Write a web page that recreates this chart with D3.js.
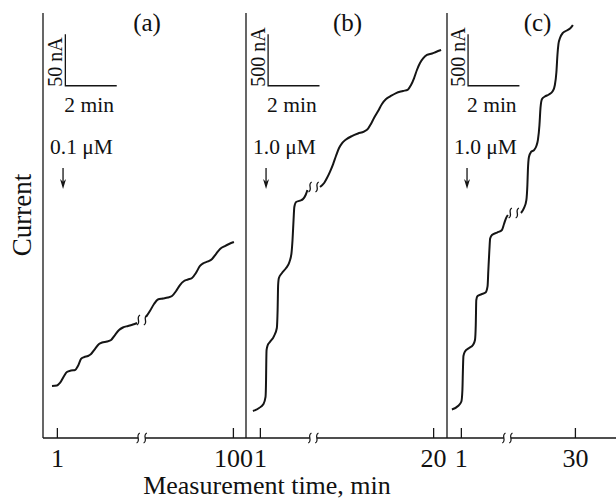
<!DOCTYPE html>
<html>
<head>
<meta charset="utf-8">
<title>Current traces</title>
<script src="https://d3js.org/d3.v7.min.js"></script>
<style>
body{margin:0;background:#fff}
text{font-family:"Liberation Serif","Times New Roman",serif;fill:#111}
</style>
</head>
<body>
<svg width="616" height="500"></svg>
<script>
// traces: [time, min ; current, nA], split at the break
var traceA1 = [[0.35,50.5],[0.54,51.0],[0.66,53.5],[0.82,60.3],[0.93,64.2],[1.09,65.6],[1.25,66.1],[1.36,70.0],[1.48,76.8],[1.60,78.7],[1.75,79.7],[1.87,81.6],[2.02,86.5],[2.18,91.4],[2.30,92.8],[2.49,93.8],[2.65,95.3],[2.80,100.1],[2.96,105.0],[3.11,107.4],[3.31,108.9],[3.50,110.3],[3.66,111.8]];
var traceA2 = [[4.01,117.6],[4.16,123.4],[4.32,130.2],[4.47,134.6],[4.67,135.6],[4.86,136.6],[5.02,138.0],[5.18,142.9],[5.33,148.7],[5.49,152.6],[5.64,154.1],[5.80,155.5],[5.95,160.4],[6.11,167.2],[6.26,170.1],[6.42,171.6],[6.58,174.0],[6.73,178.8],[6.89,183.7],[7.08,186.6],[7.24,188.6],[7.43,190.5]];
var traceB1 = [[0.27,262],[0.51,292],[0.68,330],[0.76,399],[0.78,564],[0.79,758],[0.80,855],[0.84,899],[0.93,933],[1.09,991],[1.20,1069],[1.23,1244],[1.25,1487],[1.28,1555],[1.40,1604],[1.56,1652],[1.69,1711],[1.77,1798],[1.81,1925],[1.85,2119],[1.88,2245],[1.95,2294],[2.10,2307],[2.22,2323],[2.32,2362],[2.39,2411]];
var traceB2 = [[2.88,2440],[3.04,2479],[3.15,2527],[3.27,2590],[3.39,2663],[3.50,2741],[3.62,2819],[3.74,2867],[3.89,2901],[4.12,2935],[4.36,2960],[4.59,2979],[4.75,3008],[4.86,3052],[4.98,3110],[5.14,3178],[5.29,3246],[5.45,3295],[5.60,3319],[5.84,3353],[6.11,3373],[6.30,3387],[6.42,3431],[6.54,3499],[6.65,3577],[6.77,3645],[6.89,3689],[7.04,3723],[7.24,3737],[7.39,3752],[7.59,3771]];
var traceC1 = [[0.19,277],[0.43,311],[0.56,355],[0.60,467],[0.62,661],[0.64,797],[0.70,841],[0.86,875],[1.01,904],[1.09,953],[1.12,1098],[1.14,1341],[1.19,1380],[1.34,1397],[1.50,1414],[1.58,1477],[1.61,1633],[1.65,1827],[1.68,1939],[1.75,1973],[1.95,1997],[2.14,2022],[2.22,2080],[2.30,2138],[2.37,2168]];
var traceC2 = [[2.88,2187],[3.00,2236],[3.09,2313],[3.13,2459],[3.15,2605],[3.19,2731],[3.27,2780],[3.39,2799],[3.48,2838],[3.54,2897],[3.60,3042],[3.64,3208],[3.70,3295],[3.81,3319],[3.97,3339],[4.12,3373],[4.20,3431],[4.26,3558],[4.30,3723],[4.34,3830],[4.40,3888],[4.51,3937],[4.67,3961],[4.79,3980],[4.90,4014]];

var panelNames = ["(a)","(b)","(c)"];
var concLabels = ["0.1 μM","1.0 μM","1.0 μM"];
var barCurrent = [50,500,500];
var barLabels = ["50 nA","500 nA","500 nA"];
var barTime = 2;
var barOrigin = [[0.87,342.4],[0.86,3424],[0.82,3424]];
var injectTime = 0.78;
var tickValsA = [0.54,7.39], tickLabA = ["1","100"];
var tickValsB = [0.54,7.28], tickLabB = ["1","20"];
var tickValsC = [0.54,4.98], tickLabC = ["1","30"];
var axisBreaks = [3.84,2.62,2.35];
var traceBreaks = [[3.85,114.7],[2.63,2440],[2.60,2187]];
var timeMax = [7.90,7.82,6.58];
var currentMax = [413.1,4131,4131];

var svg = d3.select("svg"),
    edges = [43,246,447,616],
    plotTop = 13, plotBottom = 438,
    ink = "#151515";

var panels = [
  {segs:[traceA1,traceA2], ticks:tickValsA, labs:tickLabA},
  {segs:[traceB1,traceB2], ticks:tickValsB, labs:tickLabB},
  {segs:[traceC1,traceC2], ticks:tickValsC, labs:tickLabC}
];

function squiggle(g, cx, cy, w) {
  [-3.5, 3.5].forEach(function(o){
    var x = cx + o;
    g.append("path")
      .attr("d", `M${x+1.6},${cy-5} C${x-3.2},${cy-2.5} ${x+3.2},${cy+2.5} ${x-1.6},${cy+5}`)
      .attr("fill","none").attr("stroke",ink).attr("stroke-width",w);
  });
}

// shared baseline
svg.append("line")
  .attr("x1",edges[0]).attr("x2",edges[3])
  .attr("y1",plotBottom).attr("y2",plotBottom)
  .attr("stroke",ink).attr("stroke-width",1.3);

panels.forEach(function(p,i){
  var x = d3.scaleLinear().domain([0,timeMax[i]]).range([edges[i],edges[i+1]]);
  var y = d3.scaleLinear().domain([0,currentMax[i]]).range([plotBottom,plotTop]);
  var g = svg.append("g");

  g.append("line")
    .attr("x1",x(0)).attr("x2",x(0))
    .attr("y1",y(0)).attr("y2",y(currentMax[i]))
    .attr("stroke",ink).attr("stroke-width",1.3);

  var ax = g.append("g")
    .attr("transform",`translate(0,${plotBottom})`)
    .call(d3.axisBottom(x).tickValues(p.ticks).tickFormat((d,j)=>p.labs[j])
      .tickSize(-10).tickSizeOuter(0).tickPadding(11));
  ax.select(".domain").remove();
  ax.selectAll("line").attr("stroke",ink).attr("stroke-width",1.3);
  ax.selectAll("text").attr("font-family","Liberation Serif").attr("font-size",26).attr("fill",ink);

  // axis break
  var bx = x(axisBreaks[i]);
  g.append("rect").attr("x",bx-3.5).attr("y",plotBottom-2).attr("width",7).attr("height",4).attr("fill","#fff");
  squiggle(g, bx, plotBottom, 1.2);

  // trace
  var line = d3.line().x(d=>x(d[0])).y(d=>y(d[1])).curve(d3.curveMonotoneX);
  p.segs.forEach(function(s){
    g.append("path").attr("d",line(s))
      .attr("fill","none").attr("stroke",ink).attr("stroke-width",2);
  });
  squiggle(g, x(traceBreaks[i][0]), y(traceBreaks[i][1]), 1.3);

  // panel name
  g.append("text").attr("x",[147,347.5,537.5][i]).attr("y",31)
    .attr("text-anchor","middle").attr("font-size",25).text(panelNames[i]);

  // scale bar
  var b0 = barOrigin[i];
  g.append("path")
    .attr("d",`M${x(b0[0])},${y(b0[1]+barCurrent[i])}V${y(b0[1])}H${x(b0[0]+barTime)}`)
    .attr("fill","none").attr("stroke",ink).attr("stroke-width",1.3);
  g.append("text")
    .attr("transform",`translate(${x(b0[0])-3.5},${y(b0[1])+1}) rotate(-90)`)
    .attr("font-size",20).text(barLabels[i]);
  g.append("text").attr("x",x(b0[0])-1).attr("y",y(b0[1])+26)
    .attr("font-size",21.5).text(barTime + " min");

  // injection marker
  var ix = x(injectTime);
  g.append("text").attr("x",ix-13).attr("y",154)
    .attr("font-size",21.5).text(concLabels[i]);
  g.append("line").attr("x1",ix).attr("x2",ix).attr("y1",168).attr("y2",186)
    .attr("stroke",ink).attr("stroke-width",1.3);
  g.append("path").attr("d",`M${ix-3},${179}L${ix},${189}L${ix+3},${179}L${ix},${182}Z`)
    .attr("fill",ink);
});

svg.append("text")
  .attr("transform","translate(31,215) rotate(-90)")
  .attr("text-anchor","middle").attr("font-size",27).text("Current");

svg.append("text").attr("x",267).attr("y",494)
  .attr("text-anchor","middle").attr("font-size",26).text("Measurement time, min");
</script>
</body>
</html>
